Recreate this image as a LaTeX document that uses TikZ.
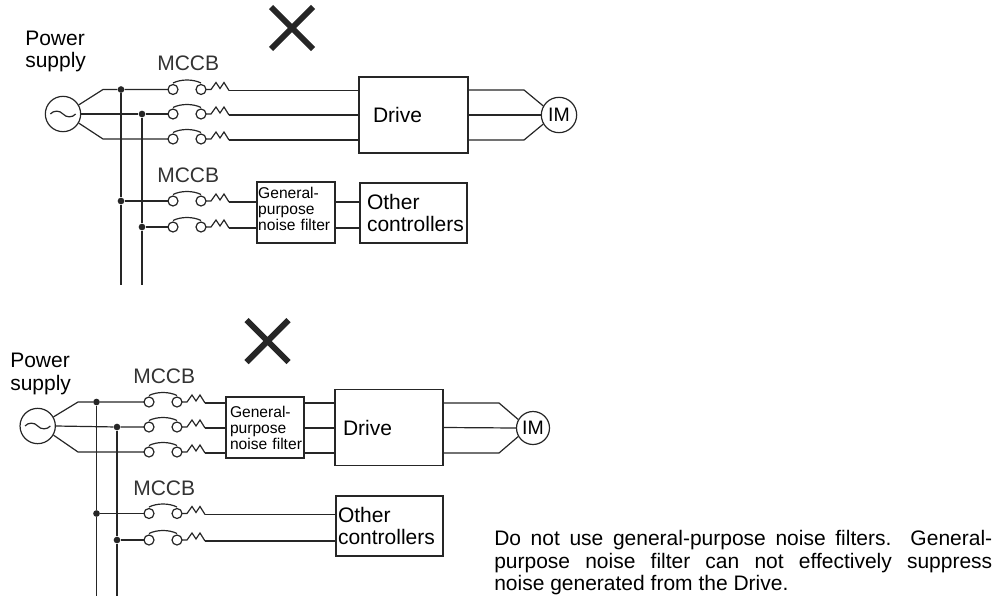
\documentclass[tikz,border=0pt]{standalone}
\usepackage{fontspec}
\setmainfont{Liberation Sans}
\usetikzlibrary{shapes.misc, positioning, calc}
\tikzset{
  wire_color/.style = {draw=black!85},
  big_font/.style = {font=\fontsize{15.75}{17}\selectfont},
  small_font/.style = {font=\fontsize{11.7}{12}\selectfont},
  wire/.style = {wire_color, line width=0.9pt},
  label/.style = {big_font, inner sep=0, align=left, anchor=north west},
  breaker_label/.style = {big_font, inner sep=0, anchor=base west, text=black!80},
  block/.style = {big_font, wire_color, draw, line width=0.9pt, align=left, inner ysep=0},
  filter/.style = {block, small_font, inner xsep=0.9pt, text width=56.7pt, minimum height=45.75pt},
  source/.style = {wire_color, draw, circle, line width=0.9pt, inner sep=0, minimum size=26.5pt},
  motor/.style = {source, font=\fontsize{14.6}{15}\selectfont},
  dot/.style = {circle, fill=black!85, inner sep=0, minimum size=5pt},
  cross/.style = {cross out, draw=black!85, line width=4.5pt, minimum width=27pt, minimum height=27pt, inner sep=0},
  note/.style = {big_font, inner sep=0, anchor=north west, align=justify, text width=373.5pt},
  breaker/.pic = {
    \draw[wire] (0,0) circle (5);
    \draw[wire] (28,0) circle (5);
    \draw[wire] (0,-6.5) .. controls (8,-10.5) and (20,-10.5) .. (28,-6.5);
    \draw[wire] (33,0) -- (38,0) -- (43,-7) -- (47,-1) -- (51,-7) -- (56,1);
    \coordinate (in) at (-5,0);
    \coordinate (out) at (56,1);
  }
}
\begin{document}
\begin{tikzpicture}[x=0.75pt, y=-0.75pt]
    \useasboundingbox (0,0) rectangle (995,596);

    % Upper circuit
    \node[cross] (x_t) at (292,28) {};
    \node[label] (power_t) at (25,30.5) {Power\\supply};
    \node[breaker_label] (mccb_t1) at (157,70) {MCCB};
    \node[breaker_label] (mccb_t2) at (157,182) {MCCB};

    \node[source] (ps_t) at (63,114) {};
    \node[dot] (j_t1) at (121,89.5) {};
    \node[dot] (j_t2) at (142,114) {};
    \node[dot] (j_t3) at (121,201) {};
    \node[dot] (j_t4) at (142,227) {};
    \coordinate (end_t1) at (121,285);
    \coordinate (end_t2) at (142,285);
    \coordinate (el_t1) at (103,89.5);
    \coordinate (el_t3) at (103,139);

    \pic (t_1) at (173,89.5) {breaker};
    \pic (t_2) at (173,114) {breaker};
    \pic (t_3) at (173,139) {breaker};
    \pic (t_4) at (173,201) {breaker};
    \pic (t_5) at (173,227) {breaker};

    \node[block, inner xsep=10.5pt, text width=60.75pt, minimum height=57pt] (drive_t) at (413.5,115) {Drive};
    \node[filter] (filter_t) at (296,212.5) {General-\\purpose\\noise filter\rule[-6pt]{0pt}{0pt}};
    \node[block, inner xsep=5.25pt, text width=69.75pt, minimum height=45pt] (other_t) at (413.5,213) {Other\\\mbox{controllers}};
    \node[motor] (im_t) at (559,115) {IM};
    \coordinate (er_t1) at (524,90);
    \coordinate (er_t2) at (524,140);

    % Upper wires
    \draw[wire] (ps_t.30) -- (el_t1) -- (j_t1) -- (t_1in);
    \draw[wire] (ps_t.east) -- (j_t2) -- (t_2in);
    \draw[wire] (ps_t.-30) -- (el_t3) -- (t_3in);
    \draw[wire] (j_t1) -- (j_t3) -- (end_t1);
    \draw[wire] (j_t2) -- (j_t4) -- (end_t2);
    \draw[wire] (j_t3) -- (t_4in);
    \draw[wire] (j_t4) -- (t_5in);
    \draw[wire] (t_1out) -- (t_1out -| drive_t.west);
    \draw[wire] (t_2out) -- (t_2out -| drive_t.west);
    \draw[wire] (t_3out) -- (t_3out -| drive_t.west);
    \draw[wire] (t_4out) -- (t_4out -| filter_t.west);
    \draw[wire] (t_5out) -- (t_5out -| filter_t.west);
    \draw[wire] (t_4out -| filter_t.east) -- (t_4out -| other_t.west);
    \draw[wire] (t_5out -| filter_t.east) -- (t_5out -| other_t.west);
    \draw[wire] (er_t1 -| drive_t.east) -- (er_t1) -- (im_t.150);
    \draw[wire] (drive_t.east) -- (im_t.west);
    \draw[wire] (er_t2 -| drive_t.east) -- (er_t2) -- (im_t.210);
    \draw[wire] ([xshift=-9.5pt]ps_t.center) to[out=50,in=130] (ps_t.center) to[out=-50,in=-130] ([xshift=9.5pt]ps_t.center);

    % Lower circuit
    \node[cross] (x_b) at (267.5,341) {};
    \node[label] (power_b) at (10,353) {Power\\supply};
    \node[breaker_label] (mccb_b1) at (133,383) {MCCB};
    \node[breaker_label] (mccb_b2) at (133,495) {MCCB};

    \node[source] (ps_b) at (37.7,426) {};
    \node[dot] (j_b1) at (96.5,402) {};
    \node[dot] (j_b2) at (117,427) {};
    \node[dot] (j_b3) at (96.5,513.5) {};
    \node[dot] (j_b4) at (117,540) {};
    \coordinate (end_b1) at (96.5,596);
    \coordinate (end_b2) at (117,596);
    \coordinate (el_b1) at (78,402);
    \coordinate (el_b3) at (78,452);

    \pic (b_1) at (149,402) {breaker};
    \pic (b_2) at (149,427) {breaker};
    \pic (b_3) at (149,452) {breaker};
    \pic (b_4) at (149,513.5) {breaker};
    \pic (b_5) at (149,540) {breaker};

    \node[filter, inner xsep=3pt, text width=52.5pt] (filter_b) at (265,427.5) {General-\\purpose\\\mbox{noise filter}};
    \node[block, inner xsep=6pt, text width=69pt, minimum height=57pt] (drive_b) at (389,427.5) {Drive};
    \node[block, inner xsep=1.5pt, text width=77.25pt, minimum height=45pt] (other_b) at (389.5,526) {Other\\controllers};
    \node[motor, minimum size=24.75pt] (im_b) at (533,428) {IM};
    \coordinate (er_b1) at (499,403);
    \coordinate (er_b2) at (499,453);

    % Lower wires
    \draw[wire] (ps_b.30) -- (el_b1) -- (j_b1) -- (b_1in);
    \draw[wire] (ps_b.east) -- (j_b2) -- (b_2in);
    \draw[wire] (ps_b.-30) -- (el_b3) -- (b_3in);
    \draw[wire] (j_b1) -- (j_b3) -- (end_b1);
    \draw[wire] (j_b2) -- (j_b4) -- (end_b2);
    \draw[wire] (j_b3) -- (b_4in);
    \draw[wire] (j_b4) -- (b_5in);
    \draw[wire] (b_1out) -- (b_1out -| filter_b.west);
    \draw[wire] (b_2out) -- (b_2out -| filter_b.west);
    \draw[wire] (b_3out) -- (b_3out -| filter_b.west);
    \draw[wire] (b_1out -| filter_b.east) -- (b_1out -| drive_b.west);
    \draw[wire] (b_2out -| filter_b.east) -- (b_2out -| drive_b.west);
    \draw[wire] (b_3out -| filter_b.east) -- (b_3out -| drive_b.west);
    \draw[wire] (b_4out) -- (b_4out -| other_b.west);
    \draw[wire] (b_5out) -- (b_5out -| other_b.west);
    \draw[wire] (er_b1 -| drive_b.east) -- (er_b1) -- (im_b.150);
    \draw[wire] (drive_b.east) -- (im_b.west);
    \draw[wire] (er_b2 -| drive_b.east) -- (er_b2) -- (im_b.210);
    \draw[wire] ([xshift=-9.5pt]ps_b.center) to[out=50,in=130] (ps_b.center) to[out=-50,in=-130] ([xshift=9.5pt]ps_b.center);

    \node[note] (note_1) at (494,530) {Do not use general-purpose noise filters. General-\linebreak
        purpose noise filter can not effectively suppress\linebreak
        noise generated from the Drive.};
\end{tikzpicture}
\end{document}
